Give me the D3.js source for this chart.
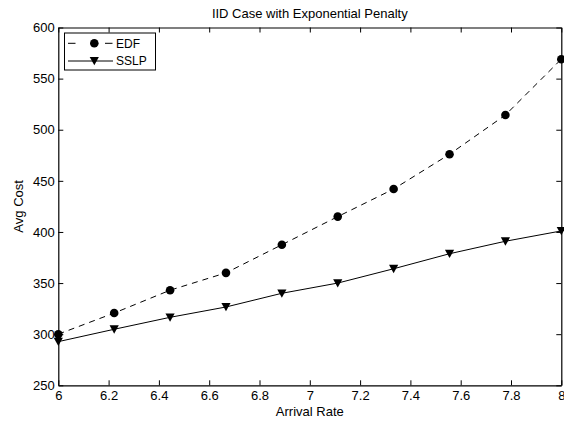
<!DOCTYPE html>
<html>
<head>
<meta charset="utf-8">
<script src="https://cdn.jsdelivr.net/npm/d3@7"></script>
<style>
  html, body { margin: 0; padding: 0; background: #fff; }
  svg { display: block; font-family: "Liberation Sans", Arial, Helvetica, sans-serif; }
</style>
</head>
<body>
<svg id="chart" width="564" height="425"></svg>
<script>
// Arrival rates: ten evenly spaced points from 6 to 8
const arrivalRates = [6, 6.2222, 6.4444, 6.6667, 6.8889, 7.1111, 7.3333, 7.5556, 7.7778, 8];
const edfCost  = [300, 320.7, 343, 360, 387.5, 415, 442, 476, 514.4, 569];
const sslpCost = [292.7, 304.8, 316.5, 326.6, 340, 350, 364, 378.7, 390.9, 401];
const xTicks = [6, 6.2, 6.4, 6.6, 6.8, 7, 7.2, 7.4, 7.6, 7.8, 8];
const yTicks = [250, 300, 350, 400, 450, 500, 550, 600];
const seriesNames = ["EDF", "SSLP"];

const svg = d3.select("#chart");
const plotLeft = 58.3, plotRight = 561.3, plotTop = 27.5, plotBottom = 385.3;

const x = d3.scaleLinear().domain([6, 8]).range([plotLeft, plotRight]);
const y = d3.scaleLinear().domain([250, 600]).range([plotBottom, plotTop]);

const fontSize = 13;
const legendFontSize = 12;
const tickLen = 5;

// Axes with inward ticks on all four sides
const axisBottom = d3.axisBottom(x).tickValues(xTicks).tickSizeInner(-tickLen).tickSizeOuter(0).tickPadding(5).tickFormat(d3.format("~g"));
const axisTop = d3.axisTop(x).tickValues(xTicks).tickSizeInner(-tickLen).tickSizeOuter(0).tickFormat("");
const axisLeft = d3.axisLeft(y).tickValues(yTicks).tickSizeInner(-tickLen).tickSizeOuter(0).tickPadding(3.5).tickFormat(d3.format("d"));
const axisRight = d3.axisRight(y).tickValues(yTicks).tickSizeInner(-tickLen).tickSizeOuter(0).tickFormat("");

function styleAxis(g) {
  g.select(".domain").attr("stroke", "#000").attr("stroke-width", 1.2);
  g.selectAll(".tick line").attr("stroke", "#000").attr("stroke-width", 1);
  g.selectAll(".tick text").attr("fill", "#000").attr("font-size", fontSize).attr("font-family", null);
}

svg.append("g").attr("transform", `translate(0,${plotBottom})`).call(axisBottom).call(styleAxis);
svg.append("g").attr("transform", `translate(0,${plotTop})`).call(axisTop).call(styleAxis);
svg.append("g").attr("transform", `translate(${plotLeft},0)`).call(axisLeft).call(styleAxis);
svg.append("g").attr("transform", `translate(${plotRight},0)`).call(axisRight).call(styleAxis);

// Series lines
const line = (vals) => d3.line().x((d, i) => x(arrivalRates[i])).y(d => y(d))(vals);

svg.append("path").attr("d", line(edfCost)).attr("fill", "none")
  .attr("stroke", "#000").attr("stroke-width", 1).attr("stroke-dasharray", "6,5");
svg.append("path").attr("d", line(sslpCost)).attr("fill", "none")
  .attr("stroke", "#000").attr("stroke-width", 1);

// Markers
const tri = (cx, cy, s) => `M${cx - s},${cy - s * 0.85}L${cx + s},${cy - s * 0.85}L${cx},${cy + s * 0.95}Z`;

svg.append("g").selectAll("circle").data(edfCost).join("circle")
  .attr("cx", (d, i) => x(arrivalRates[i])).attr("cy", d => y(d)).attr("r", 4.3).attr("fill", "#000");
svg.append("g").selectAll("path").data(sslpCost).join("path")
  .attr("d", (d, i) => tri(x(arrivalRates[i]), y(d), 4.6)).attr("fill", "#000");

// Title and axis labels
svg.append("text").attr("x", (plotLeft + plotRight) / 2).attr("y", 17.5).attr("text-anchor", "middle")
  .attr("font-size", fontSize).text("IID Case with Exponential Penalty");
svg.append("text").attr("x", (plotLeft + plotRight) / 2).attr("y", 415.5).attr("text-anchor", "middle")
  .attr("font-size", fontSize).text("Arrival Rate");
svg.append("text").attr("transform", `translate(23,${(plotTop + plotBottom) / 2}) rotate(-90)`)
  .attr("text-anchor", "middle").attr("font-size", fontSize).text("Avg Cost");

// Legend
const lg = svg.append("g");
lg.append("rect").attr("x", 64.5).attr("y", 33).attr("width", 91).attr("height", 37)
  .attr("fill", "#fff").attr("stroke", "#000").attr("stroke-width", 1);
const rows = [43.3, 61];
rows.forEach((ry, k) => {
  lg.append("line").attr("x1", 68).attr("x2", 113).attr("y1", ry).attr("y2", ry)
    .attr("stroke", "#000").attr("stroke-width", 1)
    .attr("stroke-dasharray", k === 0 ? "7.5,29.5" : null);
  if (k === 0) {
    lg.append("circle").attr("cx", 94.3).attr("cy", ry).attr("r", 4.3).attr("fill", "#000");
  } else {
    lg.append("path").attr("d", tri(94.3, ry, 4.6)).attr("fill", "#000");
  }
  lg.append("text").attr("x", 116).attr("y", ry + 4.3).attr("font-size", legendFontSize).text(seriesNames[k]);
});
</script>
</body>
</html>
